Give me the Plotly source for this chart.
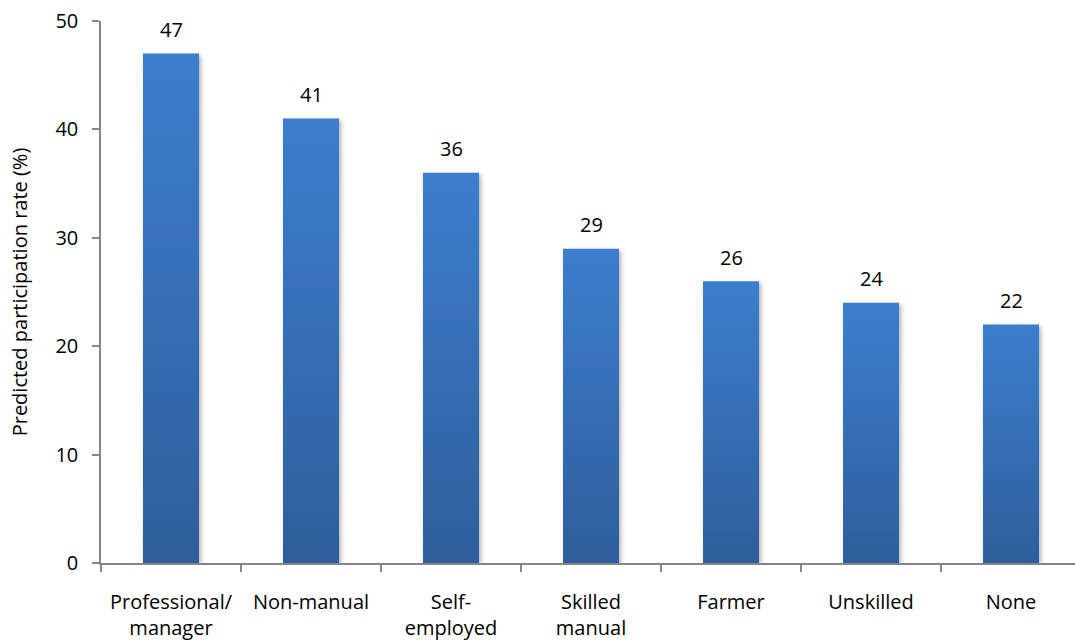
import plotly.graph_objects as go

categories = ["Professional/<br>manager", "Non-manual", "Self-<br>employed",
              "Skilled<br>manual", "Farmer", "Unskilled", "None"]
rates = [47, 41, 36, 29, 26, 24, 22]
y_ticks = [0, 10, 20, 30, 40, 50]

FONT = "Open Sans, Noto Sans, sans-serif"
AXIS_GREY = "#868686"

fig = go.Figure(
    go.Bar(
        x=categories,
        y=rates,
        width=0.4,
        marker=dict(color="#3570b9", line=dict(width=0)),
        cliponaxis=False,
        hoverinfo="x+y",
    )
)

# Value labels above each bar
for cat, val in zip(categories, rates):
    fig.add_annotation(
        x=cat, y=val, text=str(val),
        showarrow=False, yanchor="middle", yshift=24,
        font=dict(family=FONT, size=20, color="#000000"),
    )

fig.update_layout(
    width=1075,
    height=642,
    margin=dict(l=101, r=0, t=21, b=79),
    paper_bgcolor="white",
    plot_bgcolor="white",
    showlegend=False,
    font=dict(family=FONT, size=20, color="#000000"),
    xaxis=dict(
        range=[-0.5, 6.457],
        showline=True,
        linecolor=AXIS_GREY,
        linewidth=1.5,
        ticks="outside",
        tickson="boundaries",
        ticklen=7,
        tickcolor=AXIS_GREY,
        tickwidth=1.5,
        tickfont=dict(family=FONT, size=20),
        ticklabelstandoff=20,
        showgrid=False,
        zeroline=False,
        fixedrange=True,
    ),
    yaxis=dict(
        range=[0, 50],
        tickvals=y_ticks,
        showline=True,
        linecolor=AXIS_GREY,
        linewidth=1.5,
        ticks="outside",
        ticklen=7,
        tickcolor=AXIS_GREY,
        tickwidth=1.5,
        tickfont=dict(family=FONT, size=20),
        ticklabelstandoff=10,
        showgrid=False,
        zeroline=False,
        title=dict(text="Predicted participation rate (%)",
                   font=dict(family=FONT, size=20), standoff=22),
    ),
    bargap=0.6,
)

# Vertical gradient and soft shadow on the bars
post_js = """
var gd = document.getElementsByClassName('plotly-graph-div')[0];
function shadeBars() {
  var svg = gd.querySelector('svg.main-svg');
  if (!svg) return;
  var ns = 'http://www.w3.org/2000/svg';
  if (!document.getElementById('barGrad')) {
    var defs = svg.querySelector('defs') || svg.insertBefore(document.createElementNS(ns, 'defs'), svg.firstChild);
    var g = document.createElementNS(ns, 'linearGradient');
    g.setAttribute('id', 'barGrad');
    g.setAttribute('x1', '0'); g.setAttribute('y1', '0');
    g.setAttribute('x2', '0'); g.setAttribute('y2', '1');
    [['0', '#3c7ecd'], ['1', '#2e5e9b']].forEach(function (s) {
      var st = document.createElementNS(ns, 'stop');
      st.setAttribute('offset', s[0]);
      st.setAttribute('stop-color', s[1]);
      g.appendChild(st);
    });
    defs.appendChild(g);
    var f = document.createElementNS(ns, 'filter');
    f.setAttribute('id', 'barShadow');
    f.setAttribute('x', '-20%'); f.setAttribute('y', '-5%');
    f.setAttribute('width', '140%'); f.setAttribute('height', '110%');
    var ds = document.createElementNS(ns, 'feDropShadow');
    ds.setAttribute('dx', '2'); ds.setAttribute('dy', '2');
    ds.setAttribute('stdDeviation', '2');
    ds.setAttribute('flood-color', '#000000');
    ds.setAttribute('flood-opacity', '0.3');
    f.appendChild(ds);
    defs.appendChild(f);
  }
  gd.querySelectorAll('.barlayer .point path').forEach(function (p) {
    p.style.fill = 'url(#barGrad)';
    p.style.filter = 'url(#barShadow)';
  });
}
shadeBars();
gd.on('plotly_afterplot', shadeBars);
"""

fig.write_html("out.html", post_script=post_js)
